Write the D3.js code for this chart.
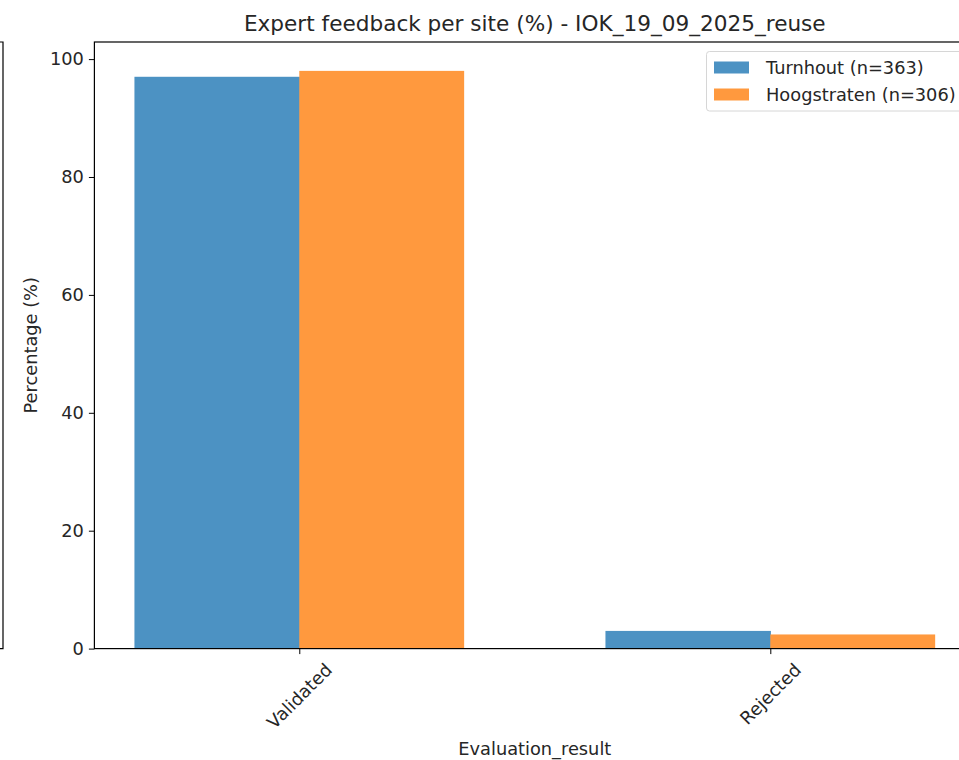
<!DOCTYPE html>
<html><head><meta charset="utf-8">
<script src="https://cdn.jsdelivr.net/npm/d3@7"></script>
<style>body{margin:0;background:#fff}svg{display:block}text{font-family:"DejaVu Sans",sans-serif;fill:#262626}</style>
</head><body>
<svg id="c" width="959" height="760"></svg>
<script>
const categories = ["Validated", "Rejected"];
const seriesNames = ["Turnhout (n=363)", "Hoogstraten (n=306)"];
const turnhout = [97.0, 3.0];
const hoogstraten = [98.0, 2.4];
const yTicks = [0, 20, 40, 60, 80, 100];
const colors = ["#4c92c3", "#ff993e"];
const series = [turnhout, hoogstraten];

const FS = 17.8, TFS = 21.6;
const svg = d3.select("#c");
const L = 94.4, R = 975.2, T = 42, B = 648.6;
const x = d3.scaleLinear().domain([-0.435, 1.435]).range([L, R]);
const y = d3.scaleLinear().domain([0, 102.9]).range([B, T]);
const bw = 0.35;

// previous subplot edge
svg.append("path").attr("d", `M0,${T}H3V${B}H0`).attr("fill","none").attr("stroke","#000").attr("stroke-width",1.2);

// bars
series.forEach((s, si) => {
  svg.append("g").selectAll("rect").data(s).join("rect")
    .attr("x", (d,i) => x(i + (si === 0 ? -bw : 0)))
    .attr("width", x(bw) - x(0) + (si === 0 ? 0.6 : 0))
    .attr("y", d => y(d))
    .attr("height", d => y(0) - y(d))
    .attr("fill", colors[si]);
});

// axes
const ya = d3.axisLeft(y).tickValues(yTicks).tickSize(5.5).tickPadding(5).tickFormat(d3.format("d"));
const gy = svg.append("g").attr("transform", `translate(${L},0)`).call(ya);
gy.select(".domain").remove();
gy.selectAll("text").attr("font-size", FS).style("font-family","DejaVu Sans");
gy.selectAll("line").attr("stroke","#000");

const xa = d3.axisBottom(x).tickValues([0,1]).tickSize(5.5).tickFormat(() => "");
const gx = svg.append("g").attr("transform", `translate(0,${B})`).call(xa);
gx.select(".domain").remove();
gx.selectAll("line").attr("stroke","#000");

// rotated category labels
categories.forEach((c, i) => {
  const t = svg.append("text").text(c).attr("font-size", FS)
    .attr("text-anchor","middle").attr("dominant-baseline","central");
  const w = t.node().getComputedTextLength();
  const h = FS * 1.17;
  const bh = (w + h) * Math.SQRT1_2;
  t.attr("transform", `translate(${x(i)},${B + 5.5 + 5 + bh/2}) rotate(-45)`);
});

// frame
svg.append("rect").attr("x", L).attr("y", T).attr("width", R-L).attr("height", B-T)
  .attr("fill","none").attr("stroke","#000").attr("stroke-width",1.2);

// labels
svg.append("text").attr("x", (L+R)/2).attr("y", 23).attr("text-anchor","middle")
  .attr("dominant-baseline","central").attr("font-size", TFS)
  .text("Expert feedback per site (%) - IOK_19_09_2025_reuse");
svg.append("text").attr("x", (L+R)/2).attr("y", 748).attr("text-anchor","middle")
  .attr("dominant-baseline","central").attr("font-size", FS).text("Evaluation_result");
svg.append("text").attr("transform", `translate(30,${(T+B)/2}) rotate(-90)`).attr("text-anchor","middle")
  .attr("dominant-baseline","central").attr("font-size", FS).text("Percentage (%)");

// legend
const lg = svg.append("g");
lg.append("rect").attr("x", 706.5).attr("y", 51.5).attr("width", 270).attr("height", 59.5)
  .attr("rx", 3).attr("fill","#fff").attr("fill-opacity",0.8).attr("stroke","#d6d6d6");
seriesNames.forEach((n, i) => {
  const cy = 67.5 + i * 27;
  lg.append("rect").attr("x", 714).attr("y", cy - 6).attr("width", 35).attr("height", 12).attr("fill", colors[i]);
  lg.append("text").attr("x", 766).attr("y", cy).attr("dominant-baseline","central").attr("font-size", FS).text(n);
});
</script>
</body></html>
